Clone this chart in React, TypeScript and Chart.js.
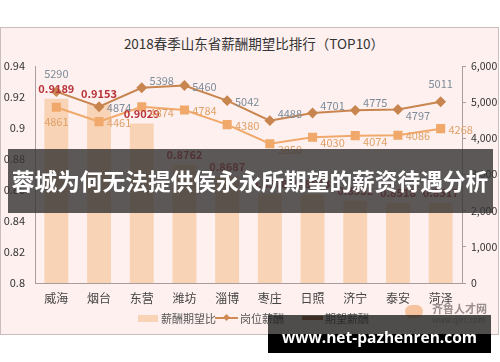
import React, { useEffect, useRef } from "react";
import { Chart, registerables } from "chart.js";

Chart.register(...registerables);

const categories = ["威海", "烟台", "东营", "潍坊", "淄博", "枣庄", "日照", "济宁", "泰安", "菏泽"];
const ratioValues = [0.9189, 0.9153, 0.9029, 0.8762, 0.8687, 0.8578, 0.8573, 0.8532, 0.8518, 0.8517];
const expectedSalary = [5290, 4874, 5398, 5460, 5042, 4488, 4701, 4775, 4797, 5011];
const positionSalary = [4861, 4461, 4874, 4784, 4380, 3850, 4030, 4074, 4086, 4268];
const leftTicks = [0.8, 0.82, 0.84, 0.86, 0.88, 0.9, 0.92, 0.94];
const rightTicks = [0, 1000, 2000, 3000, 4000, 5000, 6000];

// label placement hints (style only)
const expectedLabelPos = ["top", "right", "rightUp", "right", "right", "rightUp", "rightUp", "rightUp", "rightDown", "top"];
const positionLabelPos = ["bottom", "right", "rightDown", "right", "right", "rightDown", "rightDown", "rightDown", "right", "right"];

const FONT = "'Noto Sans CJK SC', 'Noto Sans', sans-serif";

const labelPlugin = {
  id: "valueLabels",
  afterDatasetsDraw(chart: any) {
    const ctx = chart.ctx;
    ctx.save();
    ctx.textAlign = "center";
    ctx.textBaseline = "middle";
    const barMeta = chart.getDatasetMeta(0);
    ctx.font = `bold 11px ${FONT}`;
    ctx.fillStyle = "#B8333A";
    barMeta.data.forEach((el: any, i: number) => {
      ctx.fillText(ratioValues[i].toFixed(4), el.x, el.y - 10);
    });
    const place = (pos: string, x: number, y: number) => {
      switch (pos) {
        case "top": return [x, y - 18];
        case "bottom": return [x, y + 15];
        case "right": return [x + 20, y + 1];
        case "rightUp": return [x + 20, y - 7];
        case "rightDown": return [x + 20, y + 6];
        default: return [x, y];
      }
    };
    ctx.font = `11px ${FONT}`;
    ctx.fillStyle = "#7D8B99";
    chart.getDatasetMeta(1).data.forEach((el: any, i: number) => {
      const [px, py] = place(expectedLabelPos[i], el.x, el.y);
      ctx.fillText(String(expectedSalary[i]), px, py);
    });
    ctx.fillStyle = "#E0A066";
    chart.getDatasetMeta(2).data.forEach((el: any, i: number) => {
      const [px, py] = place(positionLabelPos[i], el.x, el.y);
      ctx.fillText(String(positionSalary[i]), px, py);
    });
    ctx.restore();
  },
};

export default function App() {
  const canvasRef = useRef<HTMLCanvasElement | null>(null);

  useEffect(() => {
    if (!canvasRef.current) return;
    const axisColor = "#A99C9C";
    const chart = new Chart(canvasRef.current, {
      type: "bar",
      data: {
        labels: categories,
        datasets: [
          {
            type: "bar",
            label: "薪酬期望比",
            data: ratioValues,
            yAxisID: "y",
            backgroundColor: "#F8D3B6",
            barPercentage: 0.56,
            categoryPercentage: 1,
            order: 3,
          } as any,
          {
            type: "line",
            label: "期望薪酬",
            data: expectedSalary,
            yAxisID: "y1",
            borderColor: "#C8854F",
            backgroundColor: "#C8854F",
            borderWidth: 2,
            pointStyle: "rectRot",
            pointRadius: 4,
            order: 1,
          } as any,
          {
            type: "line",
            label: "岗位薪酬",
            data: positionSalary,
            yAxisID: "y1",
            borderColor: "#F0A96B",
            backgroundColor: "#F0A96B",
            borderWidth: 2,
            pointStyle: "rect",
            pointRadius: 5,
            order: 2,
          } as any,
        ],
      },
      options: {
        animation: false,
        responsive: false,
        maintainAspectRatio: false,
        layout: { padding: { top: 66, left: 0, right: 0, bottom: 0 } },
        plugins: {
          legend: { display: false },
          tooltip: { enabled: false },
          title: { display: false },
        },
        scales: {
          x: {
            grid: { display: false },
            border: { color: axisColor },
            ticks: { color: "#444", font: { family: FONT, size: 12 }, padding: 0 },
            afterFit: (s: any) => { s.height = 79; },
          },
          y: {
            position: "left",
            min: 0.8,
            max: 0.94,
            afterBuildTicks: (s: any) => { s.ticks = leftTicks.map((v) => ({ value: v })); },
            grid: { display: false },
            border: { color: axisColor },
            ticks: {
              color: "#333",
              font: { family: FONT, size: 11 },
              padding: 2,
              callback: (v: any) => String(+Number(v).toFixed(2)),
            },
            afterFit: (s: any) => { s.width = 35; },
          },
          y1: {
            position: "right",
            min: 0,
            max: 6000,
            afterBuildTicks: (s: any) => { s.ticks = rightTicks.map((v) => ({ value: v })); },
            grid: { display: true, drawOnChartArea: false, drawTicks: true, tickLength: 4, color: axisColor },
            border: { color: axisColor },
            ticks: { color: "#333", font: { family: FONT, size: 10.5 }, padding: 5 },
            afterFit: (s: any) => { s.width = 38; },
          },
        },
      } as any,
      plugins: [labelPlugin],
    });
    return () => chart.destroy();
  }, []);

  const abs = (o: any) => ({ position: "absolute" as const, ...o });

  return (
    <div style={{ position: "fixed", left: 0, top: 0, width: 500, height: 362, background: "#fff", overflow: "hidden", fontFamily: FONT }}>
      <div style={abs({ left: 0, top: 27, width: 497, height: 306, background: "#FDF0EF", border: "1px solid #C9BDBD" })} />
      <div style={abs({ left: 0, top: 33, width: 500, textAlign: "center", fontSize: 13.5, color: "#333", paddingLeft: 4 })}>
        2018春季山东省薪酬期望比排行（TOP10）
      </div>
      <canvas ref={canvasRef} width={500} height={362} style={abs({ left: 0, top: 0, width: 500, height: 362 })} />
      {/* legend */}
      <div style={abs({ left: 138, top: 315, width: 20, height: 7, background: "#F8D3B6" })} />
      <div style={abs({ left: 161, top: 310, fontSize: 11, color: "#555", lineHeight: "16px" })}>薪酬期望比</div>
      <div style={abs({ left: 215, top: 317, width: 23, height: 2, background: "#D08A55" })} />
      <div style={abs({ left: 224, top: 315, width: 5, height: 5, background: "#D08A55", transform: "rotate(45deg)" })} />
      <div style={abs({ left: 240, top: 310, fontSize: 11, color: "#555", lineHeight: "16px" })}>岗位薪酬</div>
      <div style={abs({ left: 302, top: 316, width: 21, height: 4, background: "#A8693F" })} />
      <div style={abs({ left: 325, top: 310, fontSize: 11, color: "#555", lineHeight: "16px" })}>期望薪酬</div>
      {/* logo */}
      <div style={abs({ left: 405, top: 305, width: 18, height: 13, borderRadius: 7, background: "#F2B88A", opacity: 0.8 })} />
      <div style={abs({ left: 432, top: 302, fontSize: 11, fontWeight: "bold", color: "#9A8E8E", lineHeight: "13px" })}>齐鲁人才网</div>
      <div style={abs({ left: 432, top: 315, fontSize: 8, color: "#AAA", lineHeight: "10px" })}>www.qlrc.com</div>
      {/* overlay banner */}
      <div style={abs({ left: 8, top: 149, width: 485, height: 64, background: "rgba(52,50,50,0.8)" })} />
      <div style={abs({ left: 0, top: 149, width: 500, height: 64, lineHeight: "64px", textAlign: "center", color: "#fff", fontWeight: "bold", fontSize: 22.7, whiteSpace: "nowrap" })}>
        蓉城为何无法提供侯永永所期望的薪资待遇分析
      </div>
      {/* bottom banner */}
      <div style={abs({ left: 268, top: 315, width: 223, height: 19, background: "rgba(30,30,30,0.78)" })} />
      <div style={abs({ left: 268, top: 334, width: 223, height: 19, background: "#000" })} />
      <div style={abs({ left: 268, top: 324, width: 223, textAlign: "center", color: "#fff", fontWeight: "bold", fontSize: 15.5, lineHeight: "26px", fontFamily: "'Open Sans', 'Noto Sans', sans-serif", whiteSpace: "nowrap" })}>
        www.net-pazhenren.com
      </div>
    </div>
  );
}
